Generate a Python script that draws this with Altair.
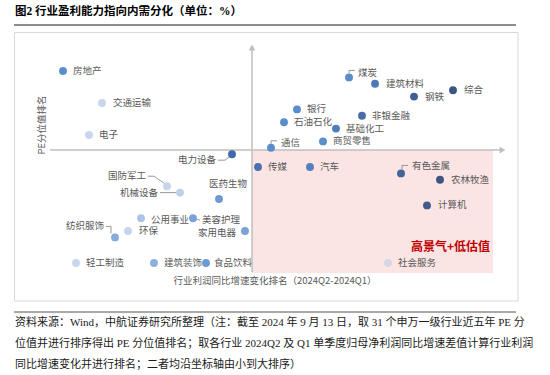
import altair as alt
import pandas as pd

# ---------------- data ----------------
industries = ["房地产", "轻工制造", "电子", "交通运输", "纺织服饰", "环保", "公用事业",
              "建筑装饰", "国防军工", "机械设备", "美容护理", "食品饮料", "医药生物",
              "电力设备", "家用电器", "传媒", "通信", "石油石化", "银行", "汽车",
              "商贸零售", "基础化工", "煤炭", "非银金融", "建筑材料", "社会服务",
              "有色金属", "钢铁", "计算机", "农林牧渔", "综合"]
profit_rank = [1, 2, 3, 4, 5, 6, 7, 8, 9, 10, 11, 12, 13, 14, 15, 16,
               17, 18, 19, 20, 21, 22, 23, 24, 25, 26, 27, 28, 29, 30, 31]
pe_rank = [31, 1, 21, 26, 5, 6, 8, 1, 13, 12, 8, 1, 11, 18, 6, 16,
           19, 23, 25, 16, 20, 22, 30, 24, 29, 1, 15, 27, 10, 14, 28]

title_text = "图2  行业盈利能力指向内需分化（单位：%）"
x_title = "行业利润同比增速变化排名（2024Q2-2024Q1）"
y_title = "PE分位值排名"
quadrant_note = "高景气+低估值"
source_lines = [
    "资料来源：Wind，中航证券研究所整理（注：截至 2024 年 9 月 13 日，取 31 个申万一级行业近五年 PE 分",
    "位值并进行排序得出 PE 分位值排名；取各行业 2024Q2 及 Q1 单季度归母净利润同比增速差值计算行业利润",
    "同比增速变化并进行排名；二者均沿坐标轴由小到大排序）",
]

# ---------------- styles ----------------
point_colors = {
    "房地产": "#5B8DCB", "轻工制造": "#C9D7EC", "电子": "#C9D7EC", "交通运输": "#C9D7EC",
    "纺织服饰": "#86AADB", "环保": "#C5D5EC", "公用事业": "#ABC4E5", "建筑装饰": "#8CAFDD",
    "国防军工": "#C5D5EC", "机械设备": "#BDD0EA", "美容护理": "#7BA2D6", "食品饮料": "#6E9AD2",
    "医药生物": "#6E9AD2", "电力设备": "#3E6AA9", "家用电器": "#7BA2D6", "传媒": "#4C70AC",
    "通信": "#5B8DCB", "石油石化": "#5B8DCB", "银行": "#5B8DCB", "汽车": "#5580BE",
    "商贸零售": "#5B8DCB", "基础化工": "#4F7EBD", "煤炭": "#5B8DCB", "非银金融": "#4A6DA4",
    "建筑材料": "#4D79B5", "社会服务": "#D6D6E6", "有色金属": "#44639A", "钢铁": "#3F5F95",
    "计算机": "#42598A", "农林牧渔": "#3E5580", "综合": "#3B5683",
}
# label offsets in pixels relative to the point: (dx, dy, align)
label_layout = {
    "电力设备": (-16, 6, "right"), "国防军工": (-21, -10, "right"),
    "机械设备": (-22, 0, "right"), "纺织服饰": (-11, -11, "right"),
    "家用电器": (-9, 2, "right"), "医药生物": (9, -15, "center"),
    "煤炭": (9, -4, "left"), "通信": (10, -5, "left"), "有色金属": (11, -7, "left"),
    "基础化工": (10, 0, "left"), "商贸零售": (10, 0, "left"), "公用事业": (10, 2, "left"),
    "美容护理": (9, 2, "left"), "环保": (11, 0, "left"), "食品饮料": (8, 0, "left"),
    "交通运输": (11, 0, "left"), "建筑材料": (11, 0, "left"), "钢铁": (11, 0, "left"),
    "综合": (11, 0, "left"), "农林牧渔": (11, 0, "left"), "计算机": (11, 0, "left"),
}
default_label = (10, 0, "left")
# leader lines, pixel offsets from the point
leaders = {
    "煤炭": [(0, -4), (0, -7), (6, -7)],
    "通信": [(0, -4), (0, -7), (6, -7)],
    "有色金属": [(1, -4), (1, -8), (7, -8)],
    "电力设备": [(-14, 6), (-7, 6), (-3, 3)],
    "国防军工": [(-19, -10), (-13, -10), (-3, -3)],
    "机械设备": [(-20, 0), (-4, 0)],
    "纺织服饰": [(-9, -11), (-4, -11), (-4, -4)],
    "美容护理": [(3, 1), (7, 2)],
}

W, H = 550, 375
X_PX0, X_STEP = 63, 13.0    # pixel of rank 1, pixels per rank
Y_PX0, Y_STEP = 263, 6.4
x_dom = [1 - X_PX0 / X_STEP, 1 + (W - X_PX0) / X_STEP]
y_dom = [1 - (H - Y_PX0) / Y_STEP, 1 + Y_PX0 / Y_STEP]
X_CROSS, Y_CROSS = 15.54, 18.65

CJK = "Noto Sans CJK SC"
SERIF = "Liberation Serif, Noto Sans CJK SC"
LABEL_GRAY = "#595959"
AXIS_GRAY = "#BFBFBF"

df = pd.DataFrame({"name": industries, "x": profit_rank, "y": pe_rank})
lay = df["name"].map(lambda n: label_layout.get(n, default_label))
df["lx"] = df["x"] + lay.map(lambda t: t[0]) / X_STEP
df["ly"] = df["y"] - lay.map(lambda t: t[1]) / Y_STEP
df["align"] = lay.map(lambda t: t[2])

rows = []
for n, pts in leaders.items():
    r = df.loc[df["name"] == n].iloc[0]
    for i, (dx, dy) in enumerate(pts):
        rows.append({"name": n, "o": i, "x": r["x"] + dx / X_STEP, "y": r["y"] - dy / Y_STEP})
lead_df = pd.DataFrame(rows)

cross_df = pd.DataFrame({"xc": [X_CROSS], "yc": [Y_CROSS]})
one = pd.DataFrame({"k": [0]})

xs = alt.Scale(domain=x_dom, range=[0, W], nice=False, zero=False)
ys = alt.Scale(domain=y_dom, range=[H, 0], nice=False, zero=False)


def X(f):
    return alt.X(f, type="quantitative", scale=xs, axis=None)


def Y(f):
    return alt.Y(f, type="quantitative", scale=ys, axis=None)


# frame box
frame = alt.Chart(one).mark_rect(filled=False, stroke="#D9D9D9", strokeWidth=1).encode(
    x=alt.value(14.5), x2=alt.value(518), y=alt.value(32.5), y2=alt.value(301))

cross = alt.Chart(cross_df)
pink = cross.mark_rect(color="#FBE4E4").encode(
    x=X("xc"), x2=alt.value(493), y=Y("yc"), y2=alt.value(273))
vaxis = cross.mark_rule(color=AXIS_GRAY, strokeWidth=1.5).encode(
    x=X("xc"), y=alt.value(48), y2=alt.value(272))
haxis = cross.mark_rule(color=AXIS_GRAY, strokeWidth=1.5).encode(
    y=Y("yc"), x=alt.value(50), x2=alt.value(501))
varrow = cross.mark_point(shape="triangle-up", filled=True, color=AXIS_GRAY,
                          size=45, opacity=1).encode(x=X("xc"), y=alt.value(47.5))
harrow = cross.mark_point(shape="triangle-right", filled=True, color=AXIS_GRAY,
                          size=45, opacity=1).encode(y=Y("yc"), x=alt.value(502.5))

lead = alt.Chart(lead_df).mark_line(color="#7F7F7F", strokeWidth=0.8).encode(
    x=X("x"), y=Y("y"), detail="name:N", order="o:Q")

base = alt.Chart(df)
points = base.mark_circle(size=62, opacity=1).encode(
    x=X("x"), y=Y("y"),
    color=alt.Color("name:N", scale=alt.Scale(domain=industries,
                    range=[point_colors[n] for n in industries]), legend=None))

labels = []
for a in ["left", "right", "center"]:
    labels.append(base.transform_filter(alt.datum.align == a).mark_text(
        align=a, baseline="middle", font=CJK, fontSize=9.5, color=LABEL_GRAY).encode(
        x=X("lx"), y=Y("ly"), text="name:N"))


def fixed_text(s, x, y, **kw):
    return alt.Chart(one).mark_text(**kw).encode(
        x=alt.value(x), y=alt.value(y), text=alt.value(s))


note = fixed_text(quadrant_note, 490, 247, align="right", baseline="middle", font=CJK,
                  fontSize=12, fontWeight="bold", color="#C00000")
xt = fixed_text(x_title, 275, 281, align="center", baseline="middle", font=CJK,
                fontSize=9.5, color=LABEL_GRAY)
yt = fixed_text(y_title, 42, 125, align="center", baseline="middle", font=CJK,
                fontSize=9.5, color=LABEL_GRAY, angle=270)
title = fixed_text(title_text, 15, 12, align="left", baseline="middle", font=SERIF,
                   fontSize=11.5, fontWeight="bold", color="#000000")

top_line = alt.Chart(one).mark_rule(color="#8C8C8C", strokeWidth=2).encode(
    x=alt.value(14), x2=alt.value(516), y=alt.value(25))
bot_line = alt.Chart(one).mark_rule(color="#8C8C8C", strokeWidth=1.5).encode(
    x=alt.value(14), x2=alt.value(516), y=alt.value(312))

src = [fixed_text(line, 15, 323 + 21 * i, align="left", baseline="middle", font=SERIF,
                  fontSize=11, color="#1A1A1A") for i, line in enumerate(source_lines)]

chart = alt.layer(frame, pink, vaxis, haxis, varrow, harrow, lead, points, *labels, note,
                  xt, yt, title, top_line, bot_line, *src).properties(
    width=W, height=H, padding=0, autosize=alt.AutoSizeParams(type="none"),
    background="white"
).configure_view(stroke=None)

chart.save("out.html", embed_options={"renderer": "svg", "actions": False})
